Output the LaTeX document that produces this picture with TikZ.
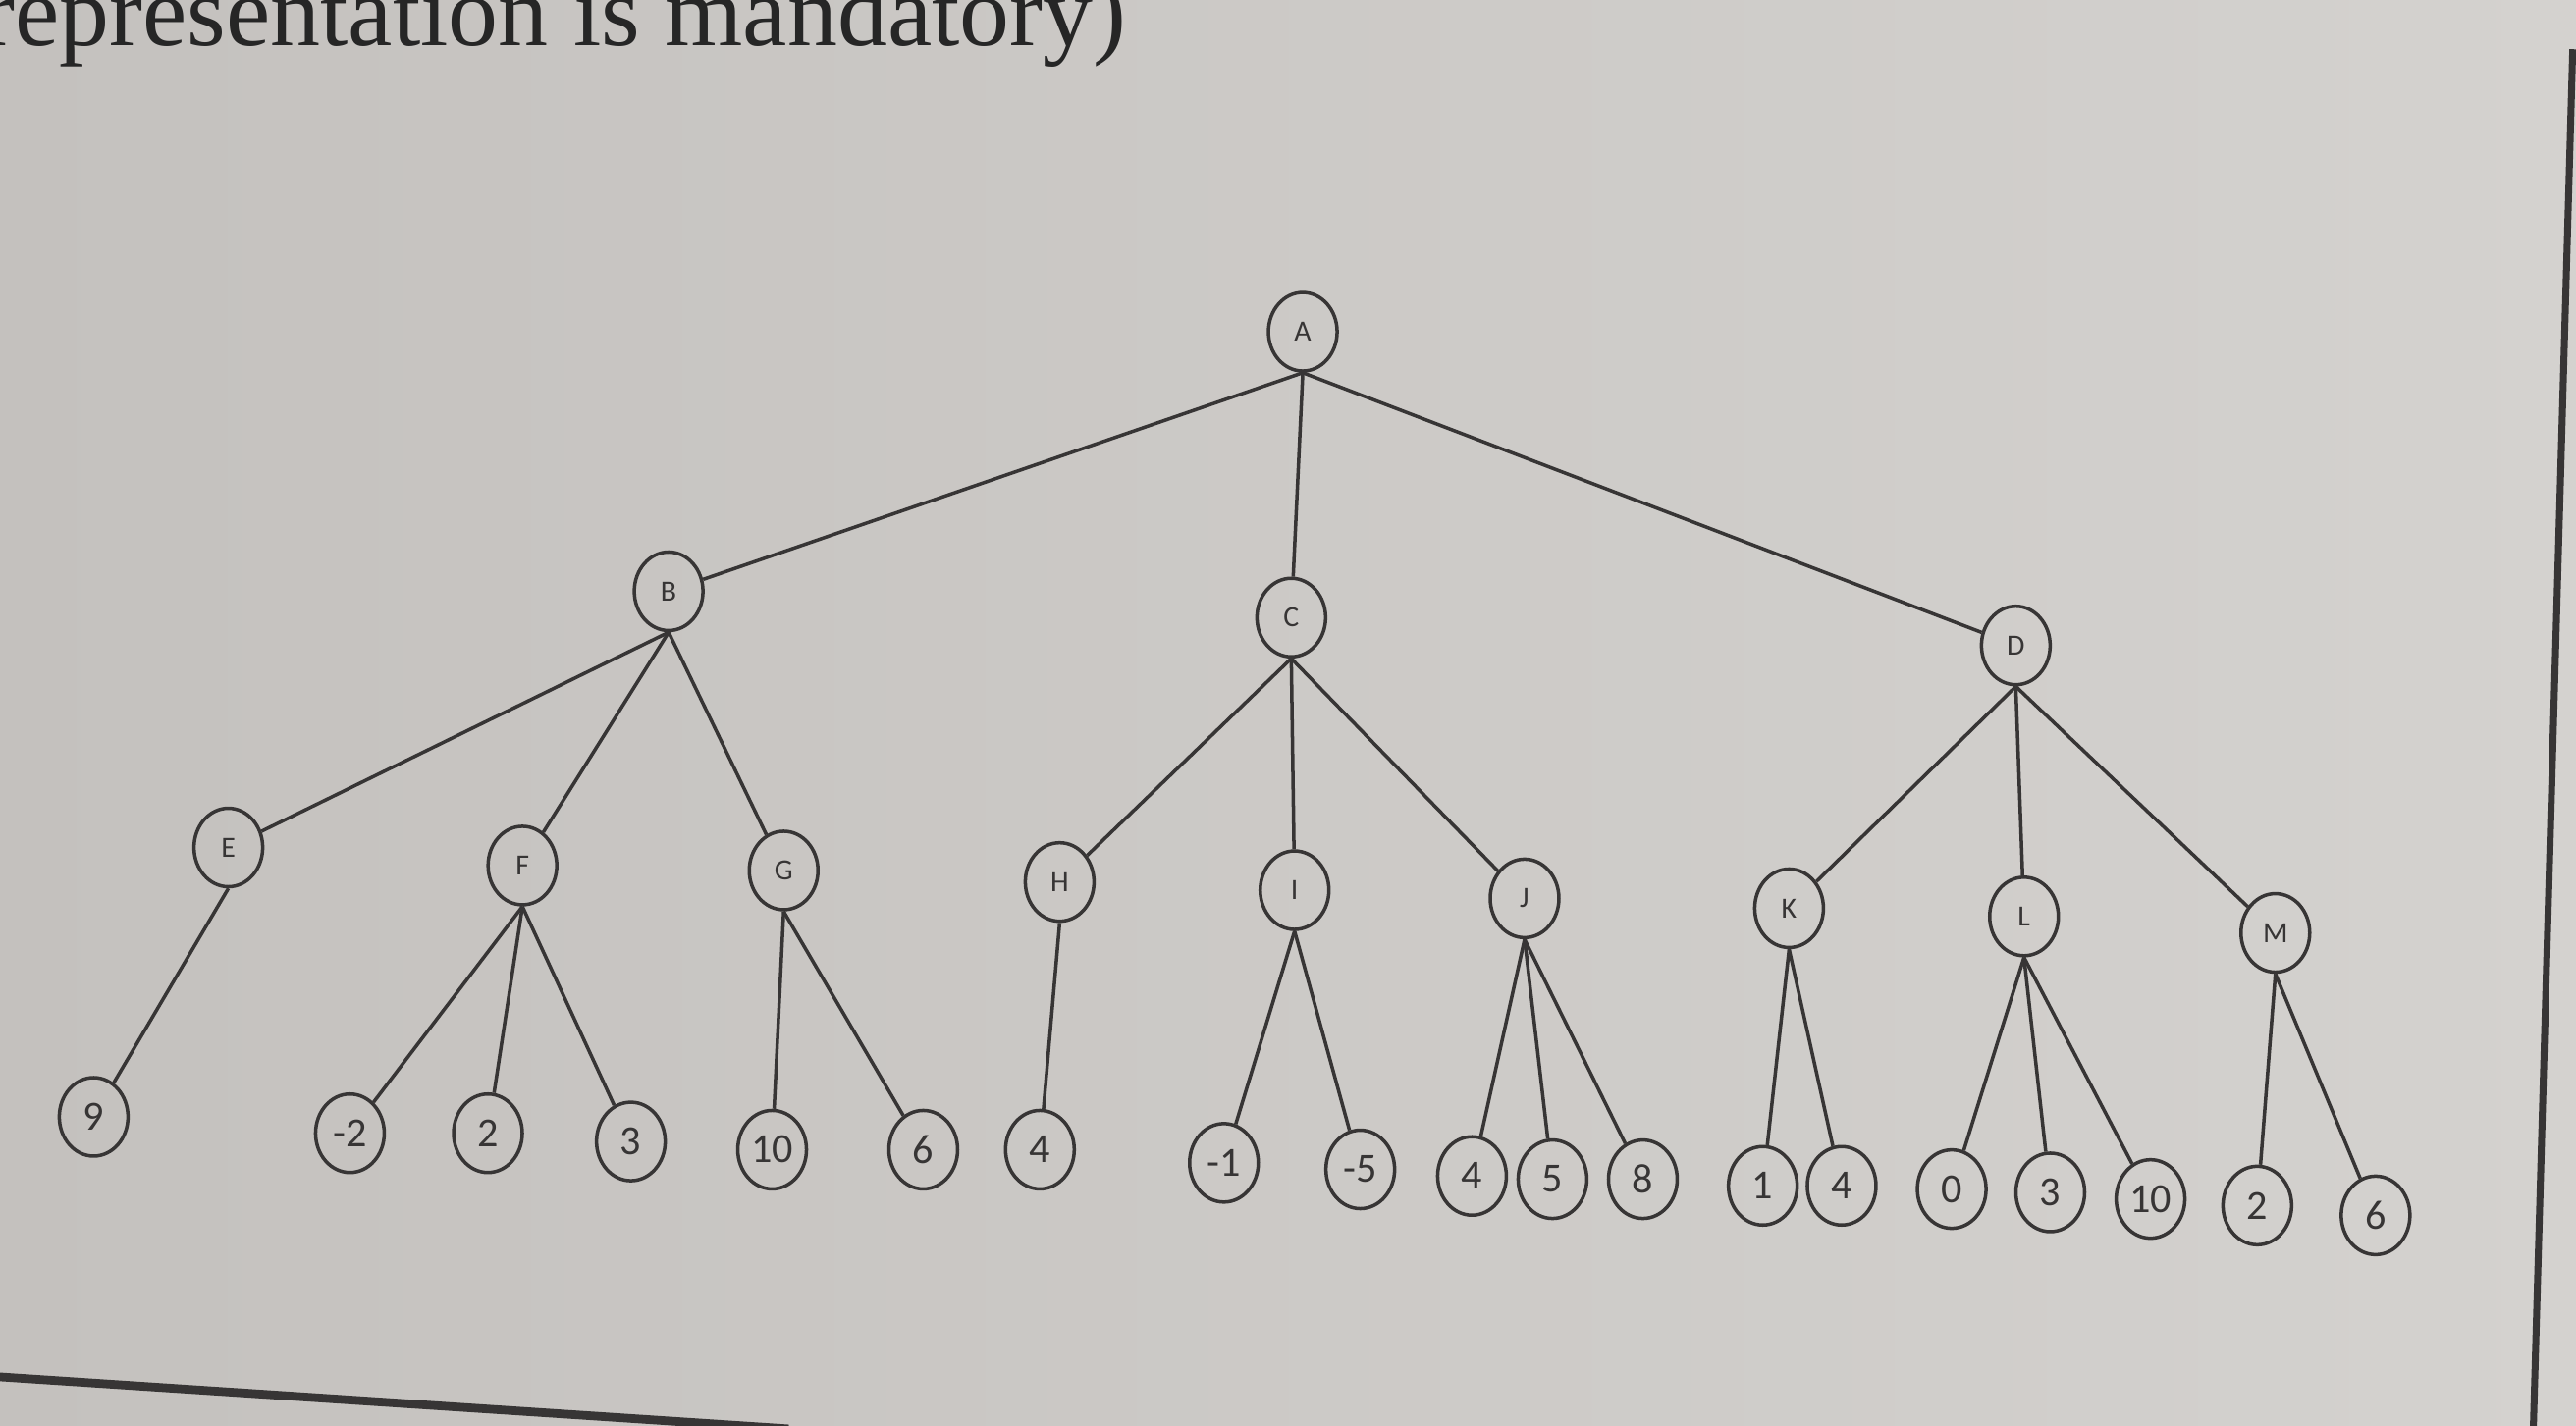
\documentclass[tikz,border=0pt]{standalone}
\usepackage{fontspec}
\setmainfont{Carlito}
\newfontfamily\headfont{Liberation Serif}
\usetikzlibrary{shapes.geometric}
\definecolor{paper}{RGB}{196,193,190}
\definecolor{paperlight}{RGB}{212,210,207}
\definecolor{ink}{RGB}{55,53,53}
\tikzset{
	vert/.style={draw=ink, ellipse, line width=1pt, minimum width=0.70cm, minimum height=0.80cm, inner sep=0pt, text=ink, font=\fontsize{8.5}{9}\selectfont},
	leaf/.style={vert, font=\fontsize{12}{13}\selectfont},
	branch/.style={draw=ink, line width=1pt},
}

\begin{document}
\begin{tikzpicture}[x=0.016735cm, y=-0.016735cm]
		\shade[left color=paper, right color=paperlight] (0,0) rectangle (1568,868);
		\useasboundingbox (0,0) rectangle (1568,868);
		\begin{scope}
			\clip (0,0) rectangle (1568,868);
			\node[anchor=base east, inner sep=0pt, text=black!85, font=\headfont\fontsize{29}{30}\selectfont] (head) at (686,28) {representation is mandatory)};
			\draw[ink, line width=2pt] (1566,30) -- (1542,870);
			\draw[ink, line width=2.5pt] (-5,838) -- (480,870);
		\end{scope}
		% internal vertices
		\node[vert] (A) at (793,202) {A};
		\node[vert] (B) at (407,360) {B};
		\node[vert] (C) at (786,376) {C};
		\node[vert] (D) at (1227,393) {D};
		\node[vert] (E) at (139,516) {E};
		\node[vert] (F) at (318,527) {F};
		\node[vert] (G) at (477,530) {G};
		\node[vert] (H) at (645,537) {H};
		\node[vert] (I) at (788,542) {I};
		\node[vert] (J) at (928,547) {J};
		\node[vert] (K) at (1089,553) {K};
		\node[vert] (L) at (1232,558) {L};
		\node[vert] (M) at (1385,568) {M};
		% leaves
		\node[leaf] (E1) at (57,680) {9};
		\node[leaf] (F1) at (213,690) {-2};
		\node[leaf] (F2) at (297,690) {2};
		\node[leaf] (F3) at (384,695) {3};
		\node[leaf] (G1) at (470,700) {10};
		\node[leaf] (G2) at (562,700) {6};
		\node[leaf] (H1) at (633,700) {4};
		\node[leaf] (I1) at (745,708) {-1};
		\node[leaf] (I2) at (828,712) {-5};
		\node[leaf] (J1) at (896,716) {4};
		\node[leaf] (J2) at (945,718) {5};
		\node[leaf] (J3) at (1000,718) {8};
		\node[leaf] (K1) at (1073,722) {1};
		\node[leaf] (K2) at (1121,722) {4};
		\node[leaf] (L1) at (1188,724) {0};
		\node[leaf] (L2) at (1248,726) {3};
		\node[leaf] (L3) at (1309,730) {10};
		\node[leaf] (M1) at (1374,734) {2};
		\node[leaf] (M2) at (1446,740) {6};
		% branches
		\draw[branch] (A.south) -- (B);
		\draw[branch] (A.south) -- (C);
		\draw[branch] (A.south) -- (D);
		\draw[branch] (B.south) -- (E);
		\draw[branch] (B.south) -- (F);
		\draw[branch] (B.south) -- (G);
		\draw[branch] (C.south) -- (H);
		\draw[branch] (C.south) -- (I);
		\draw[branch] (C.south) -- (J);
		\draw[branch] (D.south) -- (K);
		\draw[branch] (D.south) -- (L);
		\draw[branch] (D.south) -- (M);
		\draw[branch] (E.south) -- (E1);
		\draw[branch] (F.south) -- (F1);
		\draw[branch] (F.south) -- (F2);
		\draw[branch] (F.south) -- (F3);
		\draw[branch] (G.south) -- (G1);
		\draw[branch] (G.south) -- (G2);
		\draw[branch] (H.south) -- (H1);
		\draw[branch] (I.south) -- (I1);
		\draw[branch] (I.south) -- (I2);
		\draw[branch] (J.south) -- (J1);
		\draw[branch] (J.south) -- (J2);
		\draw[branch] (J.south) -- (J3);
		\draw[branch] (K.south) -- (K1);
		\draw[branch] (K.south) -- (K2);
		\draw[branch] (L.south) -- (L1);
		\draw[branch] (L.south) -- (L2);
		\draw[branch] (L.south) -- (L3);
		\draw[branch] (M.south) -- (M1);
		\draw[branch] (M.south) -- (M2);
	\end{tikzpicture}
\end{document}
